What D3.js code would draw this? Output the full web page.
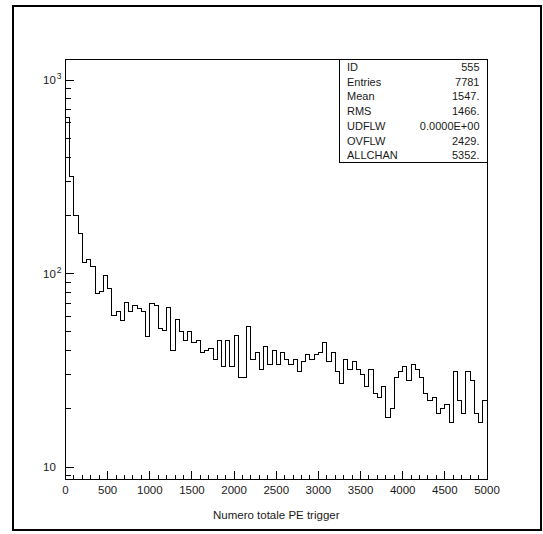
<!DOCTYPE html>
<html>
<head>
<meta charset="utf-8">
<script src="https://cdn.jsdelivr.net/npm/d3@7"></script>
<style>
  html, body { margin: 0; padding: 0; background: #fff; }
  svg { display: block; }
  text { font-family: "Liberation Sans", Arial, sans-serif; fill: #1a1a1a; }
</style>
</head>
<body>
<svg id="chart" width="543" height="534"></svg>
<script>
// Histogram 555: 100 bins of width 50 over [0, 5000]
const binWidth = 50;
const binCounts = [
  643, 317, 200, 161, 114, 118, 109, 79, 81, 98,
  84, 61, 64, 57, 71, 64, 68, 66, 64, 47,
  70, 68, 52, 51, 67, 40, 58, 50, 45, 50,
  44, 45, 39, 40, 41, 36, 45, 33, 45, 33,
  48, 29, 29, 53, 36, 39, 32, 42, 34, 40,
  34, 39, 36, 34, 36, 31, 35, 38, 36, 38,
  39, 44, 35, 39, 31, 27, 36, 32, 35, 32,
  30, 26, 32, 24, 23, 26, 18, 20, 29, 31,
  33, 28, 34, 32, 29, 24, 22, 23, 19, 20,
  21, 17, 31, 22, 19, 31, 28, 19, 17, 22
];

// Axis limits and ticks
const xDomain = [0, 5000];
const yDomain = [8.67, 1284];
const xMajorTicks = [0, 500, 1000, 1500, 2000, 2500, 3000, 3500, 4000, 4500, 5000];
const xMinorStep = 100;
const yDecades = [10, 100, 1000];
const yDecadeExponents = ["", "2", "3"];
const xTitle = "Numero totale PE trigger";

// Statistics box
const statNames = ["ID", "Entries", "Mean", "RMS", "UDFLW", "OVFLW", "ALLCHAN"];
const statValues = ["555", "7781", "1547.", "1466.", "0.0000E+00", "2429.", "5352."];

const svg = d3.select("#chart");

// Outer frame
svg.append("rect")
  .attr("x", 13).attr("y", 6).attr("width", 528).attr("height", 524)
  .attr("fill", "none").attr("stroke", "#000").attr("stroke-width", 2);

const plot = { left: 65.5, right: 487, top: 59, bottom: 479 };

const x = d3.scaleLinear().domain(xDomain).range([plot.left, plot.right]);
const y = d3.scaleLog().domain(yDomain).range([plot.bottom, plot.top]);

// Histogram outline as a step line
const pts = [[xDomain[0], yDomain[0]]];
binCounts.forEach((c, i) => {
  pts.push([i * binWidth, c]);
  pts.push([(i + 1) * binWidth, c]);
});
pts.push([binCounts.length * binWidth, yDomain[0]]);

const line = d3.line().x(d => x(d[0])).y(d => y(d[1]));
svg.append("path")
  .attr("d", line(pts))
  .attr("fill", "none").attr("stroke", "#000").attr("stroke-width", 1)
  .attr("shape-rendering", "crispEdges");

// Plot frame
svg.append("rect")
  .attr("x", plot.left).attr("y", plot.top)
  .attr("width", plot.right - plot.left).attr("height", plot.bottom - plot.top)
  .attr("fill", "none").attr("stroke", "#000").attr("stroke-width", 1)
  .attr("shape-rendering", "crispEdges");

// X ticks (inside, pointing up)
const xTicks = d3.range(xDomain[0], xDomain[1] + 1, xMinorStep);
svg.append("g").selectAll("line").data(xTicks).join("line")
  .attr("x1", d => x(d)).attr("x2", d => x(d))
  .attr("y1", plot.bottom)
  .attr("y2", d => plot.bottom - (d % 500 === 0 ? 8 : 4))
  .attr("stroke", "#000").attr("stroke-width", 1)
  .attr("shape-rendering", "crispEdges");

svg.append("g").selectAll("text").data(xMajorTicks).join("text")
  .attr("x", d => x(d)).attr("y", 494)
  .attr("text-anchor", "middle")
  .attr("font-size", 11.5)
  .text(d => d);

// Y ticks (inside, pointing right)
const yTicks = [];
yDecades.forEach(dec => {
  for (let k = 1; k <= 9; k++) {
    const v = dec * k;
    if (v >= yDomain[0] && v <= yDomain[1]) yTicks.push({ v, major: k === 1 });
  }
});
yTicks.push({ v: 9, major: false });
svg.append("g").selectAll("line").data(yTicks).join("line")
  .attr("x1", plot.left).attr("x2", d => plot.left + (d.major ? 8 : 5))
  .attr("y1", d => y(d.v)).attr("y2", d => y(d.v))
  .attr("stroke", "#000").attr("stroke-width", 1)
  .attr("shape-rendering", "crispEdges");

const yLab = svg.append("g").selectAll("text").data(yDecades).join("text")
  .attr("x", 43).attr("y", d => y(d) + 4)
  .attr("font-size", 11.5);
yLab.append("tspan").text("10");
yLab.append("tspan")
  .attr("font-size", 8.5).attr("dx", 1).attr("dy", -5)
  .text((d, i) => yDecadeExponents[i]);

// X axis title
svg.append("text")
  .attr("x", (plot.left + plot.right) / 2).attr("y", 519)
  .attr("text-anchor", "middle").attr("font-size", 11.5)
  .text(xTitle);

// Statistics box
const box = { left: 339.5, top: plot.top, right: plot.right, bottom: 162.5 };
svg.append("rect")
  .attr("x", box.left).attr("y", box.top)
  .attr("width", box.right - box.left).attr("height", box.bottom - box.top)
  .attr("fill", "#fff").attr("stroke", "#000").attr("stroke-width", 1)
  .attr("shape-rendering", "crispEdges");

const rowY = i => 71 + i * 14.7;
svg.append("g").selectAll("text").data(statNames).join("text")
  .attr("x", 347).attr("y", (d, i) => rowY(i))
  .attr("font-size", 11).text(d => d);
svg.append("g").selectAll("text").data(statValues).join("text")
  .attr("x", 479.5).attr("y", (d, i) => rowY(i))
  .attr("text-anchor", "end")
  .attr("font-size", 11).text(d => d);
</script>
</body>
</html>
